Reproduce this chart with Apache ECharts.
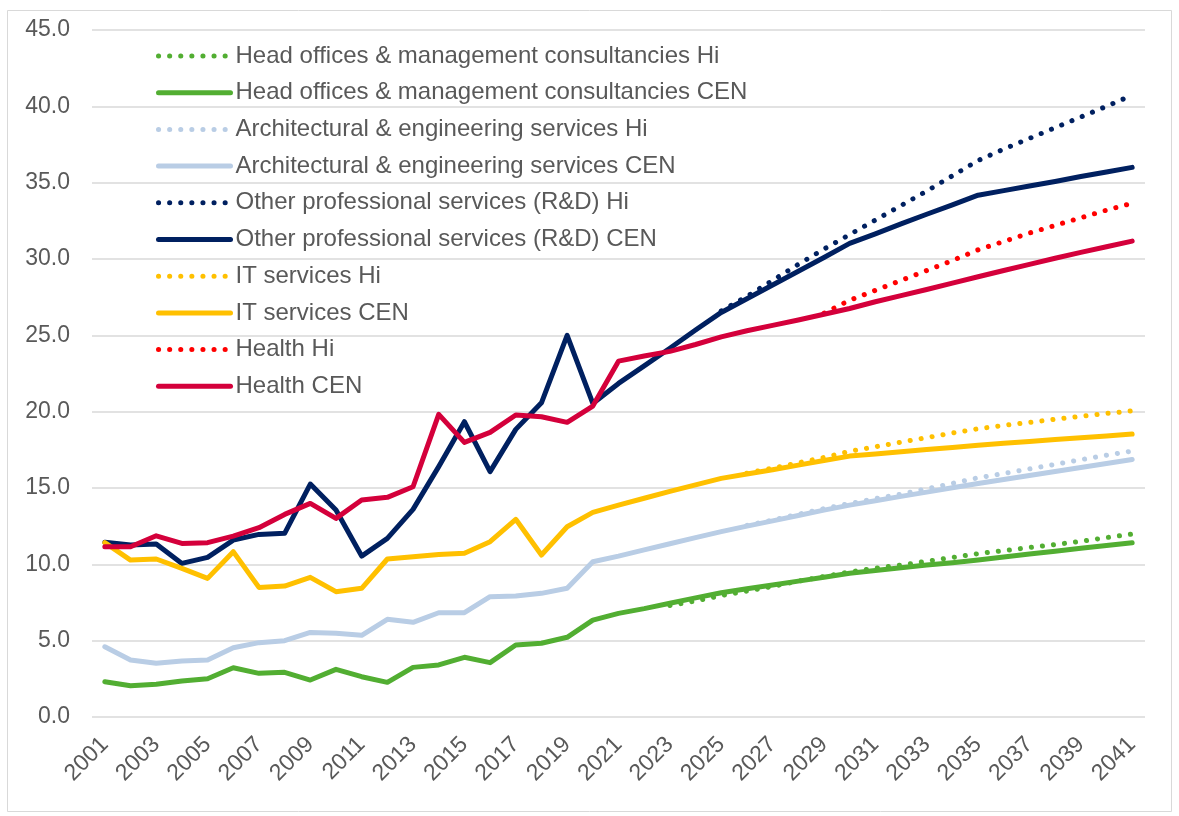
<!DOCTYPE html>
<html>
<head>
<meta charset="utf-8">
<script src="https://cdn.jsdelivr.net/npm/echarts@6/dist/echarts.min.js"></script>
<style>
  html, body { margin: 0; padding: 0; background: #fff; }
  #chart { width: 1179px; height: 816px; }
</style>
</head>
<body>
<div id="chart"></div>
<script>
// years 2001 - 2041
const years = [];
for (let y = 2001; y <= 2041; y++) years.push(String(y));

const yTicks = { min: 0, max: 45, step: 5 };

// Head offices & management consultancies
const headCen = [2.31, 2.05, 2.14, 2.36, 2.51, 3.23, 2.86, 2.93, 2.42, 3.12,
  2.64, 2.27, 3.25, 3.41, 3.91, 3.56, 4.72, 4.83, 5.22, 6.35,
  6.79, 7.1, 7.45, 7.8, 8.14, 8.4, 8.65, 8.9, 9.15, 9.41,
  9.6, 9.77, 9.95, 10.1, 10.28, 10.48, 10.67, 10.86, 11.05, 11.24, 11.42];
const headHi = [null, null, null, null, null, null, null, null, null, null,
  null, null, null, null, null, null, null, null, null, null,
  null, null, 7.3, 7.6, 7.95, 8.25, 8.55, 8.9, 9.2, 9.5,
  9.75, 9.95, 10.2, 10.45, 10.7, 10.9, 11.1, 11.3, 11.5, 11.75, 11.98];

// Architectural & engineering services
const archCen = [4.6, 3.73, 3.52, 3.67, 3.73, 4.54, 4.87, 5.0, 5.54, 5.48,
  5.35, 6.4, 6.2, 6.83, 6.83, 7.88, 7.92, 8.1, 8.43, 10.17,
  10.54, 10.95, 11.35, 11.75, 12.14, 12.5, 12.85, 13.2, 13.55, 13.88,
  14.16, 14.45, 14.73, 15.02, 15.3, 15.56, 15.82, 16.08, 16.34, 16.6, 16.87];
const archHi = [null, null, null, null, null, null, null, null, null, null,
  null, null, null, null, null, null, null, null, null, null,
  null, null, null, null, null, 12.55, 12.9, 13.28, 13.65, 13.98,
  14.3, 14.6, 14.95, 15.3, 15.67, 15.95, 16.25, 16.55, 16.85, 17.15, 17.42];

// Other professional services (R&D)
const otherCen = [11.44, 11.26, 11.33, 10.06, 10.46, 11.59, 11.96, 12.03, 15.26, 13.56,
  10.54, 11.7, 13.6, 16.4, 19.34, 16.07, 18.84, 20.58, 25.0, 20.54,
  21.85, 23.0, 24.15, 25.35, 26.5, 27.4, 28.3, 29.2, 30.1, 31.02,
  31.65, 32.3, 32.93, 33.55, 34.18, 34.48, 34.78, 35.08, 35.4, 35.7, 36.0];
const otherHi = [null, null, null, null, null, null, null, null, null, null,
  null, null, null, null, null, null, null, null, null, null,
  null, null, null, null, 26.6, 27.55, 28.6, 29.65, 30.65, 31.6,
  32.55, 33.5, 34.45, 35.45, 36.45, 37.2, 37.9, 38.6, 39.3, 40.0, 40.73];

// IT services
const itCen = [11.42, 10.28, 10.35, 9.74, 9.08, 10.83, 8.49, 8.58, 9.15, 8.21,
  8.43, 10.35, 10.5, 10.65, 10.72, 11.48, 12.95, 10.61, 12.46, 13.4,
  13.88, 14.33, 14.78, 15.2, 15.63, 15.92, 16.2, 16.5, 16.8, 17.09,
  17.23, 17.37, 17.52, 17.66, 17.8, 17.93, 18.05, 18.17, 18.29, 18.41, 18.53];
const itHi = [null, null, null, null, null, null, null, null, null, null,
  null, null, null, null, null, null, null, null, null, null,
  null, null, null, null, null, 15.97, 16.3, 16.65, 17.0, 17.4,
  17.7, 18.0, 18.3, 18.6, 18.88, 19.1, 19.3, 19.5, 19.7, 19.88, 20.05];

// Health
const healthCen = [11.15, 11.15, 11.87, 11.37, 11.42, 11.85, 12.4, 13.27, 13.99, 13.01,
  14.21, 14.39, 15.08, 19.82, 17.99, 18.64, 19.78, 19.67, 19.3, 20.37,
  23.31, 23.65, 23.95, 24.4, 24.9, 25.3, 25.65, 26.0, 26.38, 26.76,
  27.2, 27.6, 28.0, 28.42, 28.84, 29.25, 29.65, 30.05, 30.43, 30.8, 31.17];
const healthHi = [null, null, null, null, null, null, null, null, null, null,
  null, null, null, null, null, null, null, null, null, null,
  null, null, null, null, null, null, null, null, 26.45, 27.3,
  27.95, 28.6, 29.25, 29.9, 30.6, 31.15, 31.7, 32.2, 32.7, 33.2, 33.65];

const groups = [
  { name: 'Head offices & management consultancies', hi: headHi, cen: headCen, hiColor: '#52AE32', cenColor: '#52AE32' },
  { name: 'Architectural & engineering services', hi: archHi, cen: archCen, hiColor: '#B9CDE5', cenColor: '#B9CDE5' },
  { name: 'Other professional services (R&D)', hi: otherHi, cen: otherCen, hiColor: '#002060', cenColor: '#002060' },
  { name: 'IT services', hi: itHi, cen: itCen, hiColor: '#FFC000', cenColor: '#FFC000' },
  { name: 'Health', hi: healthHi, cen: healthCen, hiColor: '#FF0000', cenColor: '#D4003B' }
];

const series = [];
groups.forEach(function (g) {
  series.push({
    name: g.name + ' Hi',
    type: 'line',
    data: g.hi,
    symbol: 'none',
    color: g.hiColor,
    lineStyle: { width: 5, type: [0.1, 11], cap: 'round', color: g.hiColor }
  });
  series.push({
    name: g.name + ' CEN',
    type: 'line',
    data: g.cen,
    symbol: 'none',
    color: g.cenColor,
    lineStyle: { width: 5, cap: 'round', join: 'round', color: g.cenColor }
  });
});

const chart = echarts.init(document.getElementById('chart'));
chart.setOption({
  animation: false,
  backgroundColor: '#fff',
  textStyle: { fontFamily: 'Liberation Sans, Arial, sans-serif' },
  graphic: [{
    type: 'rect',
    shape: { x: 7.5, y: 10.5, width: 1164, height: 801 },
    style: { fill: 'none', stroke: '#D9D9D9', lineWidth: 1 },
    silent: true
  }],
  grid: { left: 92, right: 34, top: 30, bottom: 99, containLabel: false },
  legend: {
    orient: 'vertical',
    left: 156,
    top: 44,
    itemWidth: 72,
    itemHeight: 24,
    itemGap: 12.7,
    padding: 0,
    itemStyle: { opacity: 0 },
    lineStyle: { width: 5, cap: 'round' },
    textStyle: { fontSize: 24, color: '#595959', fontFamily: 'Liberation Sans, Arial, sans-serif' },
    data: series.map(function (s) { return s.name; })
  },
  xAxis: {
    type: 'category',
    data: years,
    boundaryGap: true,
    axisLine: { show: false },
    axisTick: { show: false },
    axisLabel: {
      interval: 1,
      rotate: 45,
      fontSize: 23,
      color: '#595959',
      margin: 24
    }
  },
  yAxis: {
    type: 'value',
    min: yTicks.min,
    max: yTicks.max,
    interval: yTicks.step,
    axisLine: { show: false },
    axisTick: { show: false },
    axisLabel: {
      fontSize: 23,
      color: '#595959',
      margin: 22,
      formatter: function (v) { return v.toFixed(1); }
    },
    splitLine: { lineStyle: { color: '#D9D9D9', width: 1.5 } }
  },
  series: series
});
</script>
</body>
</html>
